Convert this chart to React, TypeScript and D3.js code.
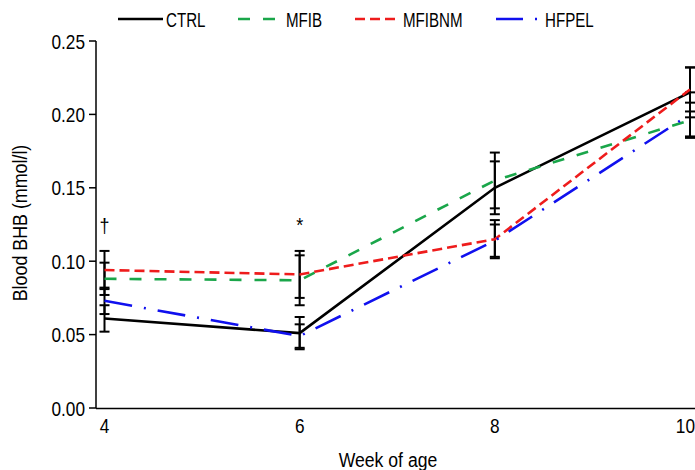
import React, { useRef, useEffect } from 'react';
import * as d3 from 'd3';

// Data
const weeks = [4, 6, 8, 10];
const seriesNames = ['CTRL', 'MFIB', 'MFIBNM', 'HFPEL'];
const ctrl = [0.061, 0.051, 0.150, 0.215];
const mfib = [0.088, 0.087, 0.155, 0.196];
const mfibnm = [0.094, 0.091, 0.115, 0.217];
const hfpel = [0.073, 0.049, 0.114, 0.200];
const ctrlSe = [0.009, 0.011, 0.018, 0.017];
const mfibSe = [0.011, 0.017, 0.019, 0.012];
const mfibnmSe = [0.013, 0.016, 0.013, 0.015];
const hfpelSe = [0.009, 0.008, 0.011, 0.015];
const yTicks = [0, 0.05, 0.1, 0.15, 0.2, 0.25];
const xTicks = [4, 6, 8, 10];
const marks = [{ week: 4, label: '†', value: 0.119 }, { week: 6, label: '*', value: 0.120 }];

const colors = ['#000000', '#1aa64a', '#ee1c1c', '#1010ee'];
const dashes = ['none', '12,13', '10,5', '28,12,2,12'];

const FONT = '"Liberation Sans", Arial, sans-serif';

const App = () => {
  const svgRef = useRef<SVGSVGElement>(null);

  useEffect(() => {
    const width = 695;
    const height = 470;
    const left = 96;
    const top = 41;
    const bottom = 408;

    const svg = d3.select(svgRef.current)
      .attr('width', width)
      .attr('height', height);
    svg.selectAll('*').remove();

    const x = d3.scaleLinear().domain([4, 10]).range([104.5, 690]);
    const y = d3.scaleLinear().domain([0, 0.25]).range([bottom, top]);

    const values = [ctrl, mfib, mfibnm, hfpel];
    const ses = [ctrlSe, mfibSe, mfibnmSe, hfpelSe];

    // narrow text helper: condensed Arial look
    const narrow = (g, tx, ty, txt, opts: any = {}) => {
      const w = g.append('g').attr('transform', `translate(${tx},${ty})${opts.rotate ? ' rotate(-90)' : ''}`);
      w.append('text')
        .attr('transform', `scale(${opts.sx ?? 0.82},1)`)
        .attr('text-anchor', opts.anchor ?? 'start')
        .attr('dy', opts.dy ?? 0)
        .attr('font-family', FONT)
        .attr('font-size', opts.size ?? 21)
        .attr('fill', '#000')
        .text(txt);
    };

    // Y axis
    const yAxis = svg.append('g');
    yAxis.append('line')
      .attr('x1', left).attr('x2', left).attr('y1', top).attr('y2', bottom)
      .attr('stroke', '#000').attr('stroke-width', 1.5);
    yTicks.forEach(t => {
      yAxis.append('line')
        .attr('x1', left - 7).attr('x2', left).attr('y1', y(t)).attr('y2', y(t))
        .attr('stroke', '#000').attr('stroke-width', 1.5);
      narrow(yAxis, left - 11, y(t), d3.format('.2f')(t), { anchor: 'end', dy: '0.36em' });
    });

    // X axis (no tick marks)
    svg.append('line')
      .attr('x1', left).attr('x2', width)
      .attr('y1', bottom + 0.5).attr('y2', bottom + 0.5)
      .attr('stroke', '#000').attr('stroke-width', 1.5);
    xTicks.forEach(t => {
      const last = t === xTicks[xTicks.length - 1];
      narrow(svg, last ? width : x(t), 433, String(t), { anchor: last ? 'end' : 'middle' });
    });

    // Axis titles
    narrow(svg, 388, 467, 'Week of age', { anchor: 'middle', sx: 0.84 });
    narrow(svg, 27, 223, 'Blood BHB (mmol/l)', { anchor: 'middle', sx: 0.85, rotate: true });

    // Error bars
    const eb = svg.append('g').attr('stroke', '#000').attr('stroke-width', 2);
    values.forEach((vals, si) => {
      vals.forEach((v, i) => {
        const cx = x(weeks[i]);
        const hi = y(v + ses[si][i]);
        const lo = y(v - ses[si][i]);
        eb.append('line').attr('x1', cx).attr('x2', cx).attr('y1', hi).attr('y2', lo);
        eb.append('line').attr('x1', cx - 5).attr('x2', cx + 5).attr('y1', hi).attr('y2', hi);
        eb.append('line').attr('x1', cx - 5).attr('x2', cx + 5).attr('y1', lo).attr('y2', lo);
      });
    });

    // Lines
    const line = d3.line<number>()
      .x((_, i) => x(weeks[i]))
      .y(d => y(d));
    values.forEach((vals, si) => {
      svg.append('path')
        .datum(vals)
        .attr('fill', 'none')
        .attr('stroke', colors[si])
        .attr('stroke-width', 2.6)
        .attr('stroke-dasharray', dashes[si])
        .attr('d', line);
    });

    // Significance marks
    marks.forEach(m => {
      narrow(svg, x(m.week), y(m.value), m.label, { anchor: 'middle', size: 20, sx: 0.9 });
    });

    // Legend
    const legendX = [118, 238, 355, 496];
    const legendLen = [45, 38, 43, 42];
    const textX = [166, 286, 303 + 100, 545];
    const lg = svg.append('g');
    seriesNames.forEach((name, i) => {
      lg.append('line')
        .attr('x1', legendX[i]).attr('x2', legendX[i] + legendLen[i])
        .attr('y1', 19).attr('y2', 19)
        .attr('stroke', colors[i]).attr('stroke-width', 2.6)
        .attr('stroke-dasharray', i === 3 ? '27,12,2,12' : dashes[i]);
      narrow(lg, textX[i], 27, name, { sx: 0.72 });
    });
  }, []);

  return (
    <div>
      <svg ref={svgRef} style={{ position: 'absolute', left: 0, top: 0 }}></svg>
    </div>
  );
};

export default App;
